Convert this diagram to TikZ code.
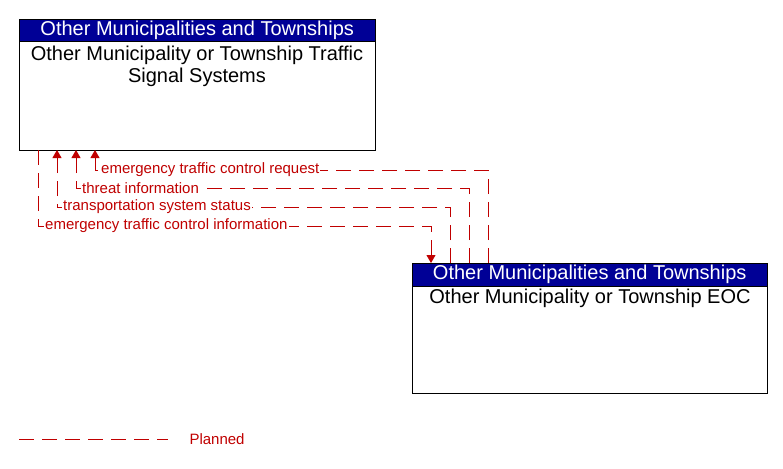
\documentclass[tikz,border=0pt]{standalone}
\usepackage{fontspec}
\setmainfont{Liberation Sans}
\usetikzlibrary{arrows.meta}
\definecolor{hdrblue}{RGB}{0,0,150}
\definecolor{flowred}{RGB}{192,0,0}
\tikzset{
  hdr/.style={draw=black, fill=hdrblue, text=white, anchor=north west,
    minimum height=22pt, inner sep=0pt, font=\fontsize{20}{22}\selectfont},
  body/.style={draw=black, fill=white, anchor=north west, inner sep=0pt},
  bodytext/.style={anchor=north, align=center, inner sep=0pt,
    font=\fontsize{20}{22}\selectfont},
  planned/.style={draw=flowred, line width=0.8pt, dash pattern=on 15pt off 8pt},
  flowlabel/.style={anchor=west, fill=white, text=flowred, inner xsep=1pt,
    inner ysep=1pt, font=\fontsize{15}{17}\selectfont},
  tip/.style={-{Triangle[length=8pt,width=9pt]}}
}
\begin{document}
\begin{tikzpicture}[x=1pt,y=-1pt]
    \useasboundingbox (0,0) rectangle (783,468);

    % traffic signal systems
    \node (sig) [body, minimum width=356pt, minimum height=131pt] at (19,19) {};
    \node (sighdr) [hdr, minimum width=356pt] at (19,19) {Other Municipalities and Townships};
    \node (sigtxt) [bodytext] at (197,46) {Other Municipality or Township Traffic\\Signal Systems};

    % EOC
    \node (eoc) [body, minimum width=355pt, minimum height=130pt] at (412,263) {};
    \node (eochdr) [hdr, minimum width=355pt, minimum height=23pt] at (412,263) {Other Municipalities and Townships};
    \node (eoctxt) [bodytext] at (590,289) {Other Municipality or Township EOC};

    % flow ends
    \coordinate (s1) at (38,150);
    \coordinate (s2) at (57,150);
    \coordinate (s3) at (76,150);
    \coordinate (s4) at (95,150);
    \coordinate (e1) at (431,263);
    \coordinate (e2) at (450,263);
    \coordinate (e3) at (469,263);
    \coordinate (e4) at (488,263);

    \draw[planned, tip] (s1) |- (431,226) -- (e1);
    \draw[planned, tip] (e2) |- (57,207) -- (s2);
    \draw[planned, tip] (e3) |- (76,188) -- (s3);
    \draw[planned, tip] (e4) |- (95,170) -- (s4);

    \node (f1) [flowlabel] at (44,226) {emergency traffic control information};
    \node (f2) [flowlabel] at (62,207) {transportation system status};
    \node (f3) [flowlabel] at (81,188) {threat information};
    \node (f4) [flowlabel] at (100,170) {emergency traffic control request};

    % legend
    \coordinate (l1) at (19,439);
    \coordinate (l2) at (168,439);
    \draw[planned] (l1) -- (l2);
    \node (leg) [anchor=west, text=flowred, font=\fontsize{15}{17}\selectfont] at (186,439) {Planned};
  \end{tikzpicture}
\end{document}
